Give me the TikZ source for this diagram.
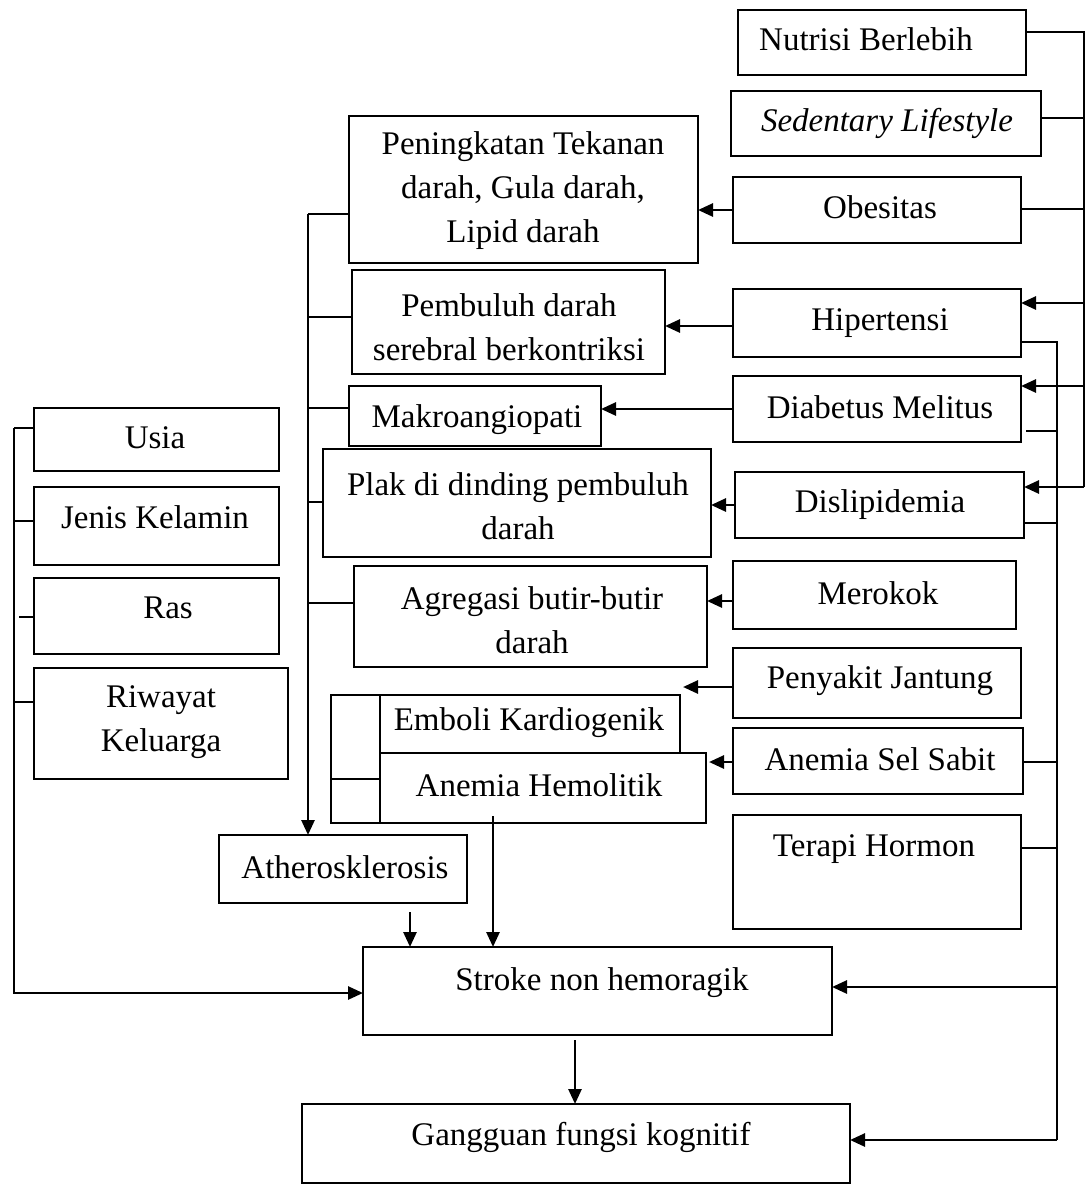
\documentclass[tikz,border=0pt]{standalone}
\usepackage{fontspec}
\setmainfont{Liberation Serif}
\usetikzlibrary{arrows.meta}
\newcommand\mybox[9]{%
  \pgfmathsetmacro\cx{(#2+#4)/2}%
  \pgfmathsetmacro\cy{(#3+#5)/2}%
  \pgfmathsetmacro\bw{#4-#2}%
  \pgfmathsetmacro\bh{#5-#3}%
  \node[box,minimum width=\bw pt,minimum height=\bh pt] (#1) at (\cx,\cy) {};
  \node[txt,anchor=#6] (#1-t) at (#7,#8) {#9};}
\begin{document}
\begin{tikzpicture}[x=1pt,y=-1pt,
  box/.style={draw,line width=2.7pt,inner sep=0pt,outer sep=0pt},
  txt/.style={align=center,inner sep=0pt,font=\fontsize{33}{44}\selectfont},
  ln/.style={line width=2.7pt},
  arr/.style={ln,-{Triangle[length=15pt,width=13pt]}}]
\useasboundingbox[fill=white] (0,0) rectangle (1087,1186);
% right column
\mybox{nut}{738}{10}{1026}{75}{base}{866}{50}{Nutrisi Berlebih}
\mybox{sed}{731}{91}{1041}{156}{base}{887}{131}{\textit{Sedentary Lifestyle}}
\mybox{obe}{733}{177}{1021}{243}{base}{880}{218}{Obesitas}
\mybox{hip}{733}{289}{1021}{357}{base}{880}{330}{Hipertensi}
\mybox{dia}{733}{376}{1021}{442}{base}{880}{418}{Diabetus Melitus}
\mybox{dis}{735}{472}{1024}{538}{base}{880}{512}{Dislipidemia}
\mybox{mer}{733}{561}{1016}{629}{base}{878}{604}{Merokok}
\mybox{pj}{733}{648}{1021}{718}{base}{880}{688}{Penyakit Jantung}
\mybox{ass}{733}{728}{1023}{794}{base}{880}{770}{Anemia Sel Sabit}
\mybox{ter}{733}{815}{1021}{929}{base}{874}{856}{Terapi Hormon}
% middle column
\mybox{pen}{349}{116}{698}{263}{center}{523}{191}{Peningkatan Tekanan\\darah, Gula darah,\\Lipid darah}
\mybox{pem}{352}{270}{665}{374}{center}{509}{327}{Pembuluh darah\\serebral berkontriksi}
\mybox{mak}{349}{386}{601}{446}{base}{477}{427}{Makroangiopati}
\mybox{plak}{323}{449}{711}{557}{center}{518}{506}{Plak di dinding pembuluh\\darah}
\mybox{agr}{354}{566}{707}{667}{center}{532}{620}{Agregasi butir-butir\\darah}
\mybox{emk}{380}{695}{680}{753}{base}{529}{730}{Emboli Kardiogenik}
\mybox{ah}{380}{753}{706}{823}{base}{539}{796}{Anemia Hemolitik}
\node[box,minimum width=49pt,minimum height=84pt] (emb1) at (355.5,737) {};
\node[box,minimum width=49pt,minimum height=44pt] (emb2) at (355.5,801) {};
% left column
\mybox{usia}{34}{408}{279}{471}{base}{155}{448}{Usia}
\mybox{jk}{34}{487}{279}{565}{base}{155}{528}{Jenis Kelamin}
\mybox{ras}{34}{578}{279}{654}{base}{168}{618}{Ras}
\mybox{riw}{34}{668}{288}{779}{center}{161}{722}{Riwayat\\Keluarga}
% bottom
\mybox{ath}{219}{835}{467}{903}{base}{345}{878}{Atherosklerosis}
\mybox{str}{363}{947}{832}{1035}{base}{602}{990}{Stroke non hemoragik}
\mybox{gan}{302}{1104}{850}{1183}{base}{581}{1145}{Gangguan fungsi kognitif}
% right bus 1
\coordinate (r1) at (1084,32);
\coordinate (r2) at (1084,118);
\coordinate (r3) at (1084,209);
\coordinate (r4) at (1084,303);
\coordinate (r5) at (1084,386);
\coordinate (r6) at (1084,487);
\draw[ln] (nut.east |- r1) -- (r1) -- (r6);
\draw[ln] (sed.east |- r2) -- (r2);
\draw[ln] (obe.east |- r3) -- (r3);
\draw[arr] (r4) -- (hip.east |- r4);
\draw[arr] (r5) -- (dia.east |- r5);
\draw[arr] (r6) -- (dis.east |- r6);
% right bus 2
\coordinate (q1) at (1057,342);
\coordinate (q2) at (1057,431);
\coordinate (q3) at (1057,523);
\coordinate (q4) at (1057,762);
\coordinate (q5) at (1057,848);
\coordinate (q6) at (1057,987);
\coordinate (q7) at (1057,1140);
\draw[ln] (hip.east |- q1) -- (q1) -- (q7);
\draw[ln,shorten <=5pt] (dia.east |- q2) -- (q2);
\draw[ln] (dis.east |- q3) -- (q3);
\draw[ln] (ass.east |- q4) -- (q4);
\draw[ln] (ter.east |- q5) -- (q5);
\draw[arr] (q6) -- (str.east |- q6);
\draw[arr] (q7) -- (gan.east |- q7);
% right column to middle column
\draw[arr] (obe.west) -- (pen.east |- obe.west);
\coordinate (hy) at (700,326);
\draw[arr] (hip.west |- hy) -- (pem.east |- hy);
\draw[arr] (dia.west) -- (mak.east |- dia.west);
\draw[arr] (dis.west) -- (plak.east |- dis.west);
\coordinate (my) at (720,601);
\draw[arr] (mer.west |- my) -- (agr.east |- my);
\coordinate (pjend) at (683,687);
\draw[arr] (pj.west |- pjend) -- (pjend);
\draw[arr,shorten >=3pt] (ass.west |- q4) -- (ah.east |- q4);
% left bus of middle column
\coordinate (l1) at (308,214);
\coordinate (l2) at (308,317);
\coordinate (l3) at (308,408);
\coordinate (l4) at (308,502);
\coordinate (l5) at (308,603);
\draw[arr] (l1) -- (l1 |- ath.north);
\draw[ln] (l1) -- (pen.west |- l1);
\draw[ln] (l2) -- (pem.west |- l2);
\draw[ln] (l3) -- (mak.west |- l3);
\draw[ln] (l4) -- (plak.west |- l4);
\draw[ln] (l5) -- (agr.west |- l5);
% far left bus
\coordinate (f1) at (14,428);
\coordinate (f2) at (14,521);
\coordinate (f3) at (14,617);
\coordinate (f4) at (14,702);
\coordinate (f5) at (14,993);
\draw[arr] (f1) -- (f5) -- (str.west |- f5);
\draw[ln] (f1) -- (usia.west |- f1);
\draw[ln] (f2) -- (jk.west |- f2);
\draw[ln,shorten <=5pt] (f3) -- (ras.west |- f3);
\draw[ln] (f4) -- (riw.west |- f4);
% to stroke and cognitive
\coordinate (athx) at (410,912);
\draw[arr] (athx) -- (athx |- str.north);
\coordinate (ahx) at (493,816);
\draw[arr] (ahx) -- (ahx |- str.north);
\coordinate (sgx) at (575,1040);
\draw[arr] (sgx) -- (sgx |- gan.north);
\end{tikzpicture}
\end{document}
